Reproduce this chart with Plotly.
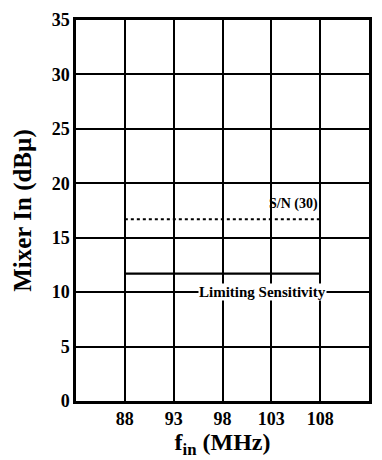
import plotly.graph_objects as go

# Frequency span of the FM band (MHz)
freq = [88, 108]
# Mixer input levels (dBµ)
sn30_level = [16.7, 16.7]
limiting_level = [11.7, 11.7]

x_ticks = [88, 93, 98, 103, 108]
y_ticks = [0, 5, 10, 15, 20, 25, 30, 35]

FONT = "Liberation Serif"

fig = go.Figure()

fig.add_trace(go.Scatter(
    x=freq, y=sn30_level, mode="lines",
    line=dict(color="black", width=2, dash="dot"),
    showlegend=False, hoverinfo="skip",
))
fig.add_trace(go.Scatter(
    x=freq, y=limiting_level, mode="lines",
    line=dict(color="black", width=2.2),
    showlegend=False, hoverinfo="skip",
))

fig.add_annotation(
    x=108, y=sn30_level[0] + 1.4, xanchor="right", yanchor="middle",
    text="<b>S/N (30)</b>", showarrow=False,
    font=dict(family=FONT, size=14, color="black"),
)
fig.add_annotation(
    x=102.1, y=10, xanchor="center", yanchor="middle",
    text="<b>Limiting Sensitivity</b>", showarrow=False,
    font=dict(family=FONT, size=15, color="black"),
    bgcolor="white", borderpad=0,
)

fig.update_xaxes(
    range=[83, 113], tickvals=x_ticks,
    ticktext=[f"<b>{v}</b>" for v in x_ticks],
    showgrid=True, gridcolor="black", gridwidth=1.5,
    showline=True, linecolor="black", linewidth=2.5, mirror=True,
    ticks="", zeroline=False,
    tickfont=dict(family=FONT, size=18, color="black"),
    title=dict(text="<b>f<sub>in</sub> (MHz)</b>",
               font=dict(family=FONT, size=24, color="black"), standoff=2),
)
fig.update_yaxes(
    range=[0, 35], tickvals=y_ticks,
    ticktext=[f"<b>{v}</b>" for v in y_ticks],
    showgrid=True, gridcolor="black", gridwidth=1.5,
    showline=True, linecolor="black", linewidth=2.5, mirror=True,
    ticks="", zeroline=False,
    tickfont=dict(family=FONT, size=18, color="black"),
    title=dict(text="<b>Mixer In (dBµ)</b>",
               font=dict(family=FONT, size=25, color="black"), standoff=13),
)

fig.update_layout(
    width=382, height=460,
    margin=dict(l=76, r=10, t=19, b=59),
    paper_bgcolor="white", plot_bgcolor="white",
)

fig.write_html("out.html")
